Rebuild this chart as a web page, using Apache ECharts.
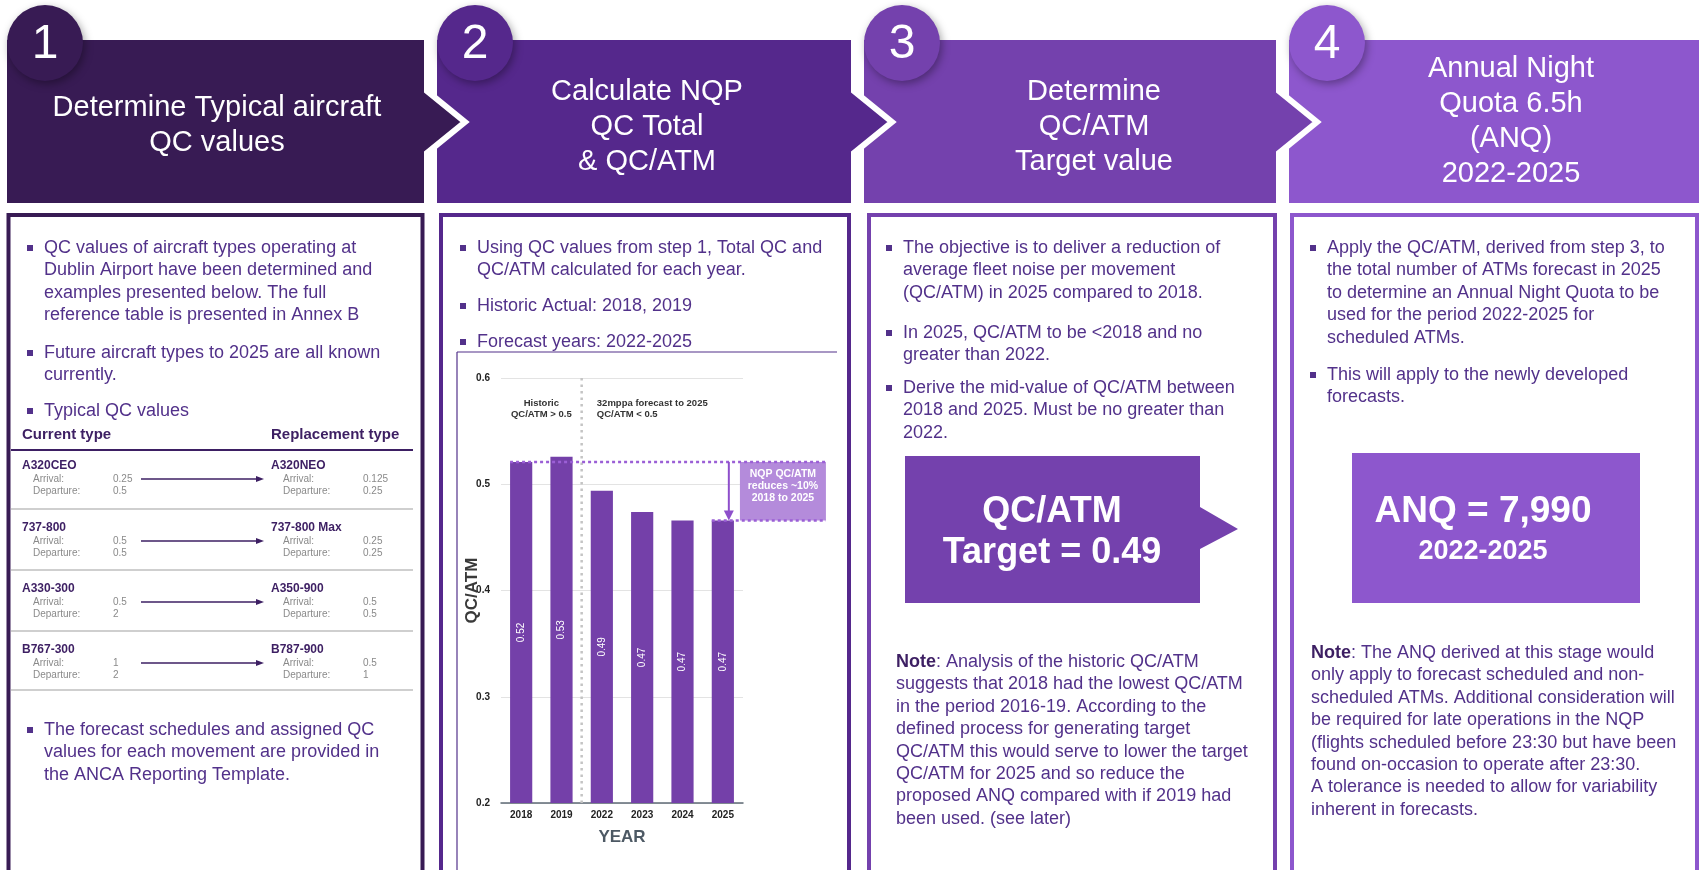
<!DOCTYPE html>
<html>
<head>
<meta charset="utf-8">
<title>Annual Night Quota process</title>
<script src="https://cdn.jsdelivr.net/npm/echarts@6/dist/echarts.min.js"></script>
<style>
html, body { margin: 0; padding: 0; background: #fff; }
#main { width: 1699px; height: 870px; }
</style>
</head>
<body>
<div id="main"></div>
<script>
// QC/ATM per year (bar chart in step 2)
var years = ['2018', '2019', '2022', '2023', '2024', '2025'];
var qcAtm = [0.521, 0.526, 0.494, 0.474, 0.466, 0.466];
var yMin = 0.2, yMax = 0.6, yStep = 0.1;

// step headers
var stepNumbers = ['1', '2', '3', '4'];
var stepTitles = [
    ['Determine Typical aircraft', 'QC values'],
    ['Calculate NQP', 'QC Total', '& QC/ATM'],
    ['Determine', 'QC/ATM', 'Target value'],
    ['Annual Night', 'Quota 6.5h', '(ANQ)', '2022-2025']
];
var stepColors = ['#381b54', '#55288c', '#7441ad', '#8d57cd'];

// typical QC values table
var currentTypes = ['A320CEO', '737-800', 'A330-300', 'B767-300'];
var currentArrival = ['0.25', '0.5', '0.5', '1'];
var currentDeparture = ['0.5', '0.5', '2', '2'];
var replacementTypes = ['A320NEO', '737-800 Max', 'A350-900', 'B787-900'];
var replacementArrival = ['0.125', '0.25', '0.5', '0.5'];
var replacementDeparture = ['0.25', '0.25', '0.5', '1'];

var targetQcAtm = '0.49';
var anqValue = '7,990';
var anqPeriod = '2022-2025';

// body texts
var box1Bullets = [
    [248, ['QC values of aircraft types operating at', 'Dublin Airport have been determined and', 'examples presented below. The full', 'reference table is presented in Annex B']],
    [353, ['Future aircraft types to 2025 are all known', 'currently.']],
    [411, ['Typical QC values']],
    [730, ['The forecast schedules and assigned QC', 'values for each movement are provided in', 'the ANCA Reporting Template.']]
];
var box2Bullets = [
    [248, ['Using QC values from step 1, Total QC and', 'QC/ATM calculated for each year.']],
    [306, ['Historic Actual: 2018, 2019']],
    [342, ['Forecast years: 2022-2025']]
];
var box3Bullets = [
    [248, ['The objective is to deliver a reduction of', 'average fleet noise per movement', '(QC/ATM) in 2025 compared to 2018.']],
    [333, ['In 2025, QC/ATM to be <2018 and no', 'greater than 2022.']],
    [388, ['Derive the mid-value of QC/ATM between', '2018 and 2025. Must be no greater than', '2022.']]
];
var box3Note = ['Analysis of the historic QC/ATM', 'suggests that 2018 had the lowest QC/ATM', 'in the period 2016-19. According to the',
    'defined process for generating target', 'QC/ATM this would serve to lower the target', 'QC/ATM for 2025 and so reduce the',
    'proposed ANQ compared with if 2019 had', 'been used. (see later)'];
var box4Bullets = [
    [248, ['Apply the QC/ATM, derived from step 3, to', 'the total number of ATMs forecast in 2025', 'to determine an Annual Night Quota to be', 'used for the period 2022-2025 for', 'scheduled ATMs.']],
    [375, ['This will apply to the newly developed', 'forecasts.']]
];
var box4Note = ['The ANQ derived at this stage would', 'only apply to forecast scheduled and non-', 'scheduled ATMs. Additional consideration will',
    'be required for late operations in the NQP', '(flights scheduled before 23:30 but have been', 'found on-occasion to operate after 23:30.',
    'A tolerance is needed to allow for variability', 'inherent in forecasts.'];

var FONT = '"Liberation Sans", Arial, sans-serif';
var TEXT_COLOR = '#52318a';
var DARK = '#3d1f63';
var LH = 22.4;

var chart = echarts.init(document.getElementById('main'));

chart.setOption({
    animation: false,
    textStyle: { fontFamily: FONT },
    grid: { left: 501, top: 378, width: 242, height: 425 },
    xAxis: {
        type: 'category',
        data: years,
        axisLine: { lineStyle: { color: '#5f6b75', width: 1.5 } },
        axisTick: { length: 5, lineStyle: { color: '#5f6b75' } },
        axisLabel: { fontSize: 10, fontWeight: 'bold', color: '#222', margin: 7 },
        name: 'YEAR',
        nameLocation: 'middle',
        nameGap: 26,
        nameTextStyle: { fontSize: 17, fontWeight: 'bold', color: '#4d5964' }
    },
    yAxis: {
        type: 'value',
        min: yMin,
        max: yMax,
        interval: yStep,
        axisLine: { show: false },
        axisTick: { show: false },
        splitLine: { lineStyle: { color: '#e3e3e3' } },
        axisLabel: {
            fontSize: 10, fontWeight: 'bold', color: '#222', margin: 11,
            formatter: function (v) { return v.toFixed(1); }
        },
        name: 'QC/ATM',
        nameLocation: 'middle',
        nameGap: 20,
        nameMoveOverlap: false,
        nameTextStyle: { fontSize: 17, fontWeight: 'bold', color: '#3a3a3a' }
    },
    series: [{
        type: 'bar',
        data: qcAtm,
        barWidth: '55%',
        itemStyle: { color: '#7440a9' },
        label: {
            show: true,
            position: 'inside',
            rotate: 90,
            color: '#fff',
            fontSize: 10,
            formatter: function (p) { return p.value.toFixed(2); }
        }
    }]
});

// ---------- graphic helpers ----------
var els = [];
function txt(x, y, s, font, fill, align, extra) {
    var st = { x: x, y: y, text: s, font: font, fill: fill, textAlign: align || 'left', textVerticalAlign: 'middle' };
    if (extra) { for (var k in extra) st[k] = extra[k]; }
    els.push({ type: 'text', z: 50, style: st });
}
function para(x, y0, lines, bullet) {
    if (bullet) {
        els.push({ type: 'rect', z: 50, shape: { x: x - 17, y: y0 - 3, width: 6, height: 6 }, style: { fill: TEXT_COLOR } });
    }
    lines.forEach(function (s, i) {
        txt(x, y0 + i * LH, s, '18px ' + FONT, TEXT_COLOR);
    });
}
function note(x, y0, lines) {
    lines.forEach(function (s, i) {
        if (i === 0) {
            txt(x, y0, '{b|Note}: ' + s, '18px ' + FONT, TEXT_COLOR, 'left', {
                rich: { b: { font: 'bold 18px ' + FONT, fill: DARK } }
            });
        } else {
            txt(x, y0 + i * LH, s, '18px ' + FONT, TEXT_COLOR);
        }
    });
}
function hline(x1, y, x2, color, w, dash) {
    els.push({ type: 'line', z: 50, shape: { x1: x1, y1: y, x2: x2, y2: y }, style: { stroke: color, lineWidth: w, lineDash: dash || null } });
}
function vline(x, y1, y2, color, w, dash) {
    els.push({ type: 'line', z: 50, shape: { x1: x, y1: y1, x2: x, y2: y2 }, style: { stroke: color, lineWidth: w, lineDash: dash || null } });
}

// ---------- headers ----------
var panelX = [[7, 424], [437, 851], [864, 1276], [1289, 1699]];
var titleX = [217, 647, 1094, 1511];
var titleY = [108, 92, 92, 69];
var headTop = 37, headBottom = 206;

for (var i = 3; i >= 0; i--) {
    var L = panelX[i][0] - 3, R = panelX[i][1];
    var pts;
    if (i < 3) {
        pts = [[L, headTop], [R + 3, headTop], [R + 3, 91], [R + 41, 122], [R + 3, 153], [R + 3, headBottom], [L, headBottom]];
    } else {
        pts = [[L, headTop], [R + 5, headTop], [R + 5, headBottom], [L, headBottom]];
    }
    els.push({ type: 'polygon', z: 10 + (3 - i), shape: { points: pts },
        style: { fill: stepColors[i], stroke: '#fff', lineWidth: 6, lineJoin: 'miter' } });
}
for (var j = 0; j < 4; j++) {
    var cx = panelX[j][0] + 38;
    els.push({ type: 'circle', z: 20, shape: { cx: cx, cy: 43, r: 38 },
        style: { fill: stepColors[j], shadowBlur: 8, shadowOffsetX: 2, shadowOffsetY: 3, shadowColor: 'rgba(0,0,0,0.35)' } });
    txt(cx, 45, stepNumbers[j], '48px ' + FONT, '#fff', 'center');
    stepTitles[j].forEach(function (s, k) {
        txt(titleX[j], titleY[j] + k * 35, s, '29px ' + FONT, '#fff', 'center');
    });
}

// ---------- body boxes ----------
var boxX = [[8.5, 422.5], [441, 849], [869, 1275], [1292, 1697]];
boxX.forEach(function (b, k) {
    els.push({ type: 'rect', z: 5, shape: { x: b[0], y: 215, width: b[1] - b[0], height: 700 },
        style: { fill: 'none', stroke: stepColors[k], lineWidth: 4 } });
});

// box 1
box1Bullets.forEach(function (p) { para(44, p[0], p[1], true); });
txt(22, 435, 'Current type', 'bold 15px ' + FONT, DARK);
txt(271, 435, 'Replacement type', 'bold 15px ' + FONT, DARK);
hline(11, 450, 413, DARK, 2);
var rowY = [466, 528, 589, 650];
var sepY = [509, 570, 631, 690];
for (var r = 0; r < currentTypes.length; r++) {
    var y = rowY[r];
    txt(22, y, currentTypes[r], 'bold 12px ' + FONT, DARK);
    txt(33, y + 13, 'Arrival:', '10px ' + FONT, '#8a8a8a');
    txt(33, y + 25, 'Departure:', '10px ' + FONT, '#8a8a8a');
    txt(113, y + 13, currentArrival[r], '10px ' + FONT, '#8a8a8a');
    txt(113, y + 25, currentDeparture[r], '10px ' + FONT, '#8a8a8a');
    txt(271, y, replacementTypes[r], 'bold 12px ' + FONT, DARK);
    txt(283, y + 13, 'Arrival:', '10px ' + FONT, '#8a8a8a');
    txt(283, y + 25, 'Departure:', '10px ' + FONT, '#8a8a8a');
    txt(363, y + 13, replacementArrival[r], '10px ' + FONT, '#8a8a8a');
    txt(363, y + 25, replacementDeparture[r], '10px ' + FONT, '#8a8a8a');
    hline(141, y + 13, 258, DARK, 1.6);
    els.push({ type: 'polygon', z: 50, shape: { points: [[256, y + 10], [264, y + 13], [256, y + 16]] }, style: { fill: DARK } });
    hline(11, sepY[r], 413, '#a0a0a0', 1.2);
}

// box 2
box2Bullets.forEach(function (p) { para(477, p[0], p[1], true); });
hline(457, 352, 837, TEXT_COLOR, 1.2);
vline(457, 352, 870, TEXT_COLOR, 1.2);

// box 3
box3Bullets.forEach(function (p) { para(903, p[0], p[1], true); });
els.push({ type: 'polygon', z: 40, shape: { points: [[905, 456], [1200, 456], [1200, 507], [1238, 529], [1200, 549], [1200, 603], [905, 603]] },
    style: { fill: stepColors[2] } });
txt(1052, 512, 'QC/ATM', 'bold 36px ' + FONT, '#fff', 'center');
txt(1052, 553, 'Target = ' + targetQcAtm, 'bold 36px ' + FONT, '#fff', 'center');
note(896, 662, box3Note);

// box 4
box4Bullets.forEach(function (p) { para(1327, p[0], p[1], true); });
els.push({ type: 'rect', z: 40, shape: { x: 1352, y: 453, width: 288, height: 150 }, style: { fill: stepColors[3] } });
txt(1483, 512, 'ANQ = ' + anqValue, 'bold 37px ' + FONT, '#fff', 'center');
txt(1483, 552, anqPeriod, 'bold 27px ' + FONT, '#fff', 'center');
note(1311, 653, box4Note);

// ---------- chart annotations (from chart scales) ----------
var xs = years.map(function (yr) { return chart.convertToPixel({ xAxisIndex: 0 }, yr); });
function yPix(v) { return chart.convertToPixel({ yAxisIndex: 0 }, v); }
var step = xs[1] - xs[0];
var bw = step * 0.55;
var yTop = yPix(yMax), yBot = yPix(yMin);
var y18 = yPix(qcAtm[0]), y25 = yPix(qcAtm[qcAtm.length - 1]);

vline((xs[1] + xs[2]) / 2, yTop, yBot, '#c4c4c4', 2.5, [2.5, 4]);
txt((xs[0] + xs[1]) / 2, yTop + 25, 'Historic', 'bold 9.5px ' + FONT, '#333', 'center');
txt((xs[0] + xs[1]) / 2, yTop + 36, 'QC/ATM > 0.5', 'bold 9.5px ' + FONT, '#333', 'center');
txt(xs[2] - 5, yTop + 25, '32mppa forecast to 2025', 'bold 9.5px ' + FONT, '#333', 'left');
txt(xs[2] - 5, yTop + 36, 'QC/ATM < 0.5', 'bold 9.5px ' + FONT, '#333', 'left');

var boxL = xs[5] + bw / 2 + 6, boxR = boxL + 86;
els.push({ type: 'rect', z: 45, shape: { x: boxL, y: y18, width: boxR - boxL, height: y25 - y18 }, style: { fill: '#b48bdb' } });
hline(xs[0] - bw / 2, y18, boxR, '#9b5fd6', 2.5, [3, 3]);
hline(xs[5] - bw / 2, y25, boxR, '#9b5fd6', 2.5, [3, 3]);
var ax = xs[5] + 6;
vline(ax, y18, y25 - 8, '#8e4fcb', 2);
els.push({ type: 'polygon', z: 50, shape: { points: [[ax - 5, y25 - 10], [ax + 5, y25 - 10], [ax, y25]] }, style: { fill: '#8e4fcb' } });
var bcx = (boxL + boxR) / 2;
txt(bcx, y18 + 12, 'NQP QC/ATM', 'bold 10.5px ' + FONT, '#fff', 'center');
txt(bcx, y18 + 24, 'reduces ~10%', 'bold 10.5px ' + FONT, '#fff', 'center');
txt(bcx, y18 + 36, '2018 to 2025', 'bold 10.5px ' + FONT, '#fff', 'center');

chart.setOption({ graphic: { elements: els } });
</script>
</body>
</html>
